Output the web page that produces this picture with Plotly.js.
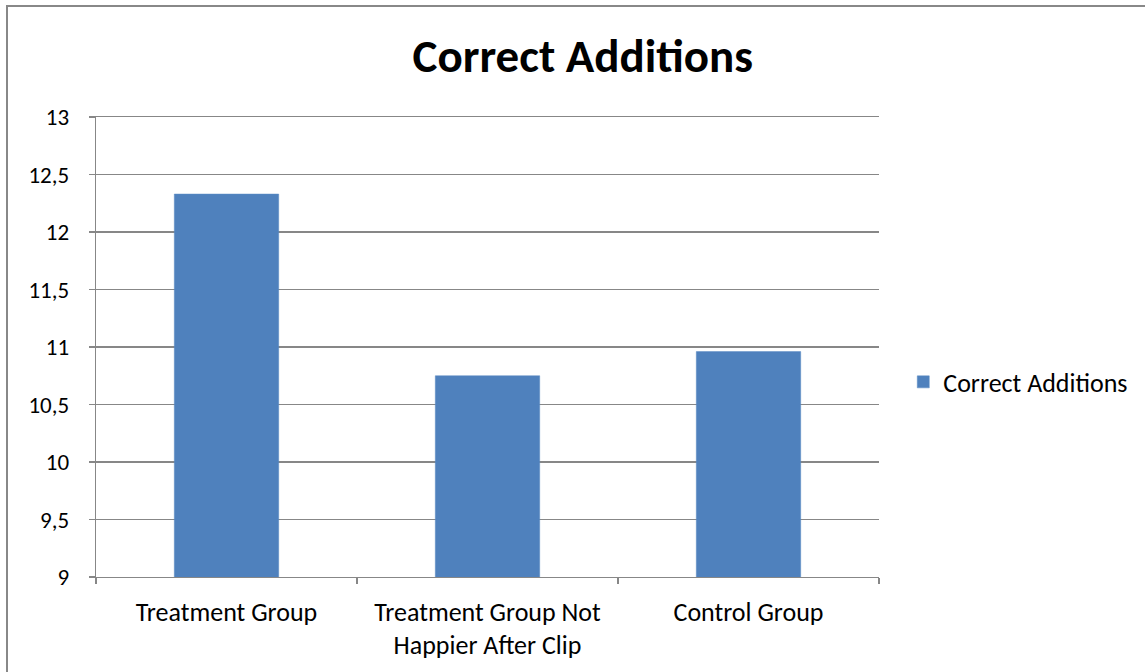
<!DOCTYPE html>
<html>
<head>
<meta charset="utf-8">
<script src="https://cdn.plot.ly/plotly-3.0.1.min.js"></script>
<style>
  html, body { margin: 0; padding: 0; background: #fff; }
  #wrap { position: relative; width: 1145px; height: 672px; overflow: hidden; }
  #chart { width: 1145px; height: 672px; }
  #frame { position: absolute; left: 6px; top: 5px; width: 1200px; height: 700px;
           border-left: 2px solid #888; border-top: 2px solid #888; pointer-events: none; }
</style>
</head>
<body>
<div id="wrap">
  <div id="chart"></div>
  <div id="frame"></div>
</div>
<script>
// Mean number of correct additions per group
const groups = ['Treatment Group', 'Treatment Group Not<br>Happier After Clip', 'Control Group'];
const correctAdditions = [12.33, 10.75, 10.96];
const seriesName = 'Correct Additions';
const yTicks = [9, 9.5, 10, 10.5, 11, 11.5, 12, 12.5, 13];

const FONT = 'Carlito, "Open Sans", "Liberation Sans", sans-serif';
const GRID = '#878787';

const trace = {
  type: 'bar',
  x: groups,
  y: correctAdditions,
  name: seriesName,
  marker: { color: '#4f81bd', line: { color: '#5a8ac4', width: 0.5 } },
  showlegend: true,
  hoverinfo: 'x+y'
};

const layout = {
  width: 1145,
  height: 672,
  paper_bgcolor: '#fff',
  plot_bgcolor: '#fff',
  separators: ', ',
  font: { family: FONT, size: 24, color: '#000' },
  margin: { l: 96, r: 266, t: 117, b: 95, pad: 0 },
  title: {
    text: '<b>Correct Additions</b>',
    font: { family: FONT, size: 47, color: '#000' },
    x: 0.509, xref: 'container', xanchor: 'center',
    y: 0.918, yref: 'container', yanchor: 'middle'
  },
  bargap: 0.6,
  xaxis: {
    type: 'category',
    showline: true, linecolor: GRID, linewidth: 1.3,
    mirror: true,
    ticks: 'outside', tickson: 'boundaries', ticklen: 6, tickcolor: GRID, tickwidth: 1.3,
    showgrid: false,
    tickfont: { family: FONT, size: 26, color: '#000' },
    ticklabelstandoff: 11
  },
  yaxis: {
    range: [9, 13],
    tickvals: yTicks,
    showline: true, linecolor: GRID, linewidth: 1.3,
    showgrid: true, gridcolor: GRID, gridwidth: 1.3,
    zeroline: false,
    ticks: 'outside', ticklen: 6, tickcolor: GRID, tickwidth: 1.3,
    tickfont: { family: FONT, size: 23, color: '#000' },
    ticklabelstandoff: 15
  },
  legend: {
    x: 1.031, xref: 'paper', xanchor: 'left',
    y: 0.424, yref: 'paper', yanchor: 'middle',
    font: { family: FONT, size: 26, color: '#000' },
    bgcolor: 'rgba(0,0,0,0)'
  }
};

Plotly.newPlot('chart', [trace], layout, { displayModeBar: false, staticPlot: true });
</script>
</body>
</html>
